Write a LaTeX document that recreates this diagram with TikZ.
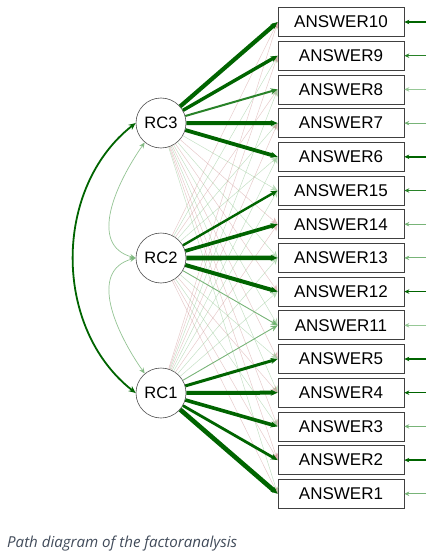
\documentclass[tikz,border=0pt]{standalone}
\usepackage{fontspec}
\setmainfont{Liberation Sans}
\newfontfamily\capfont{Open Sans}
\usetikzlibrary{arrows.meta}
\definecolor{dg}{RGB}{0,100,0}
\definecolor{mg}{RGB}{40,130,40}
\definecolor{lg}{RGB}{120,180,120}
\definecolor{pg}{RGB}{150,200,150}
\definecolor{pr}{RGB}{200,140,140}
\definecolor{capc}{RGB}{65,75,90}
\begin{document}
\begin{tikzpicture}[x=1pt,y=-1pt,
  item/.style={draw=black!75,line width=0.7pt,minimum width=126pt,minimum height=29pt,inner sep=0pt,font=\fontsize{17}{17}\selectfont},
  factor/.style={draw=black!70,line width=0.6pt,circle,minimum size=50pt,inner sep=0pt,font=\fontsize{16.5}{16.5}\selectfont},
  tip/.style={-{Stealth[length=7pt,width=6pt]}},
  load/.style={tip,draw=dg},
  cg/.style={draw=pg,line width=0.5pt,opacity=0.55},
  cr/.style={draw=pr,line width=0.5pt,opacity=0.45},
  resid/.style={-{Stealth[length=5pt,width=4.5pt]}}
]
\useasboundingbox (0,0) rectangle (445,559);
% items
\foreach \n [count=\i from 0] in {10,9,8,7,6,15,14,13,12,11,5,4,3,2,1}{
  \node[item] (a\n) at (341,{22+33.7*\i}) {ANSWER\n};
  \coordinate (r\n) at (426,{22+33.7*\i});
}
% factors
\node[factor] (rc3) at (161,123) {RC3};
\node[factor] (rc2) at (161,258) {RC2};
\node[factor] (rc1) at (161,393) {RC1};
% cross loadings
\foreach \t/\s in {15/cg,14/cr,13/cg,12/cr,11/cg,5/cr,4/cg,3/cr,2/cr,1/cg}{
  \draw[\s,tip] (rc3) -- (a\t.west);
}
\foreach \t/\s in {10/cr,9/cg,8/cr,7/cg,6/cg,5/cg,4/cr,3/cg,2/cr,1/cr}{
  \draw[\s,tip] (rc2) -- (a\t.west);
}
\foreach \t/\s in {10/cr,9/cr,8/cg,7/cr,6/cg,15/cg,14/cr,13/cg,12/cg}{
  \draw[\s,tip] (rc1) -- (a\t.west);
}
% ANSWER11 weak loadings
\draw[draw=lg,line width=0.9pt,-{Stealth[length=7pt,width=6pt,fill=green!70!black!80]}] (rc2) -- (a11.west);
\draw[draw=lg,line width=0.9pt,-{Stealth[length=7pt,width=6pt,fill=green!70!black!80]}] (rc1) -- (a11.west);
% main loadings
\draw[load,line width=4.2pt] (rc3) -- (a10.west);
\draw[load,line width=3.4pt] (rc3) -- (a9.west);
\draw[load,draw=mg,line width=2.0pt] (rc3) -- (a8.west);
\draw[load,line width=4.0pt] (rc3) -- (a7.west);
\draw[load,line width=3.8pt] (rc3) -- (a6.west);
\draw[load,line width=2.4pt] (rc2) -- (a15.west);
\draw[load,line width=3.6pt] (rc2) -- (a14.west);
\draw[load,line width=4.6pt] (rc2) -- (a13.west);
\draw[load,line width=4.0pt] (rc2) -- (a12.west);
\draw[load,line width=3.0pt] (rc1) -- (a5.west);
\draw[load,line width=4.0pt] (rc1) -- (a4.west);
\draw[load,line width=3.6pt] (rc1) -- (a3.west);
\draw[load,line width=2.8pt] (rc1) -- (a2.west);
\draw[load,line width=4.6pt] (rc1) -- (a1.west);
% covariances
\draw[draw=dg,line width=1.8pt,{Stealth[length=7pt,width=6pt]}-{Stealth[length=7pt,width=6pt]}] (rc3.west) to[bend right=52] (rc1.west);
\draw[draw=lg,line width=0.7pt,opacity=0.8,{Stealth[length=6pt,width=5pt]}-{Stealth[length=6pt,width=5pt]}] (rc3.230) to[out=235,in=165,looseness=1.1] (rc2.west);
\draw[draw=lg,line width=0.7pt,opacity=0.8,{Stealth[length=6pt,width=5pt]}-{Stealth[length=6pt,width=5pt]}] (rc2.west) to[out=195,in=125,looseness=1.1] (rc1.130);
% residuals
\foreach \n/\c/\w in {10/dg/1.5,9/mg/1.0,8/pg/1.0,7/lg/1.0,6/dg/2.2,15/mg/1.0,14/lg/1.0,13/lg/1.0,12/dg/1.5,11/pg/1.0,5/dg/2.2,4/dg/1.5,3/lg/1.0,2/dg/1.5,1/lg/1.0}{
  \draw[resid,draw=\c,line width=\w pt] (r\n) -- (a\n.east);
}
% caption
\node[anchor=west,inner sep=0pt,text=capc] (cap) at (7,544) {\resizebox{230pt}{!}{\capfont\itshape Path diagram of the factoranalysis}};
\end{tikzpicture}
\end{document}
